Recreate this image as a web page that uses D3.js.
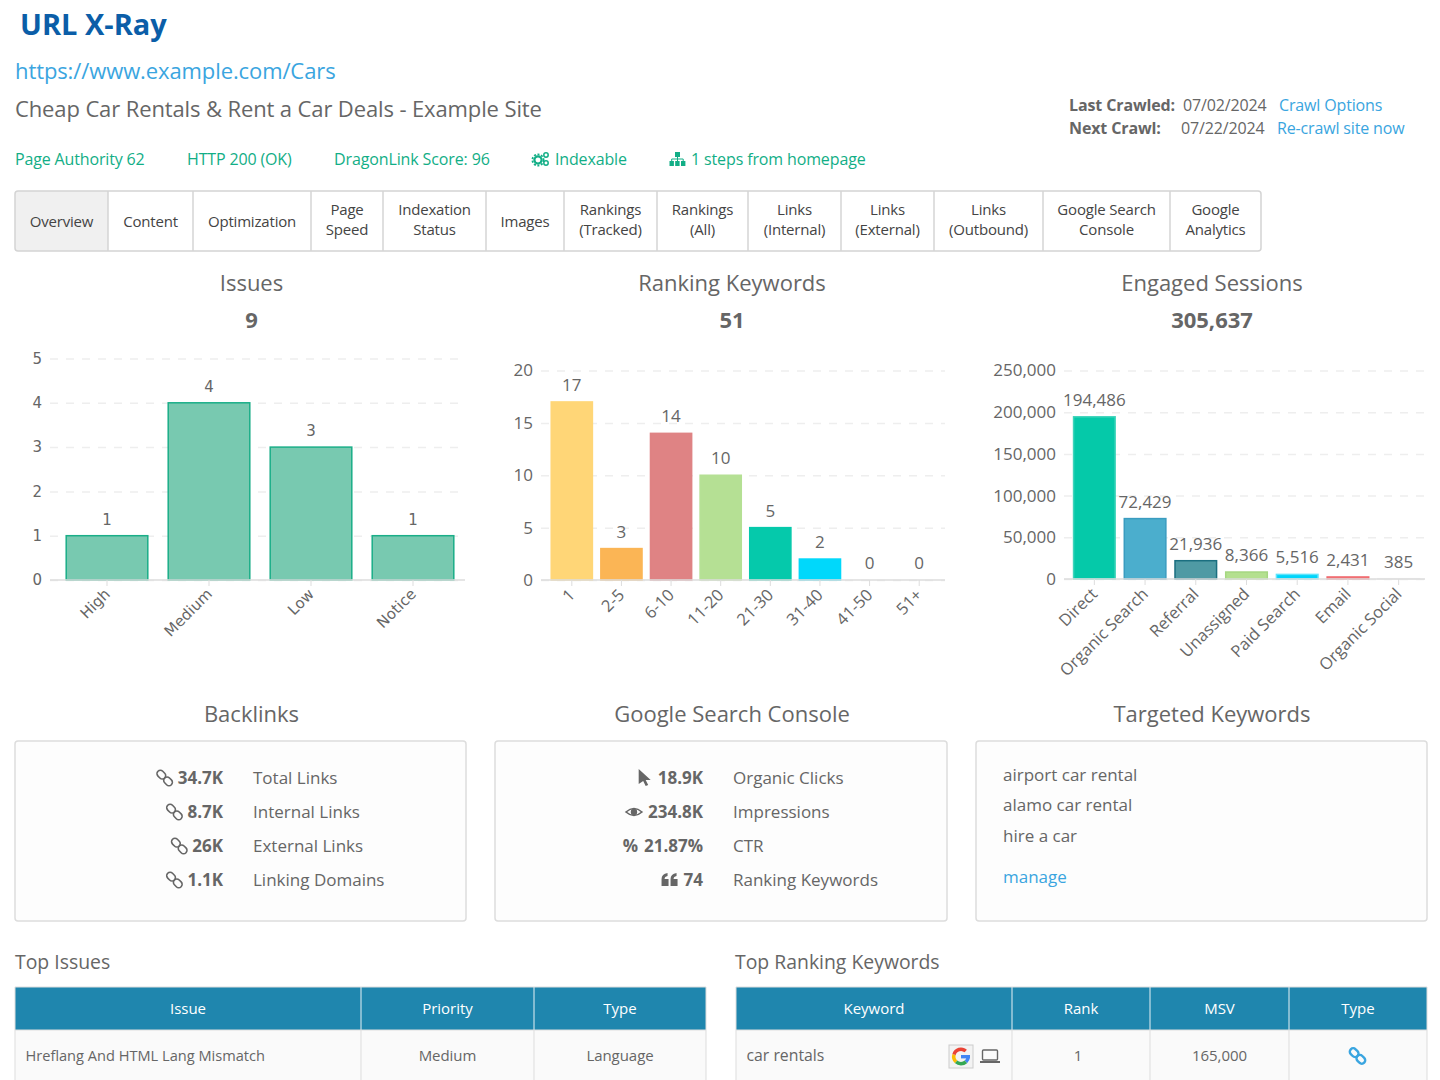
<!DOCTYPE html>
<html>
<head>
<meta charset="utf-8">
<title>URL X-Ray</title>
<script src="https://cdn.jsdelivr.net/npm/d3@7"></script>
<style>
  html, body { margin: 0; padding: 0; background: #fff; overflow: hidden; }
  svg { display: block; font-family: "Open Sans", sans-serif; }
  .axis .domain { stroke: #ddd; stroke-width: 1.5; }
  .axis .tick line { stroke: #ddd; }
  .grid .domain { display: none; }
  .grid .tick line { stroke: #eee; stroke-dasharray: 8 8; stroke-width: 1.5; }
</style>
</head>
<body>
<svg id="page" width="1440" height="1080"></svg>
<script>
// chart data
const issueCats = ["High", "Medium", "Low", "Notice"];
const issueVals = [1, 4, 3, 1];
const issueTicks = [0, 1, 2, 3, 4, 5];

const rankCats = ["1", "2-5", "6-10", "11-20", "21-30", "31-40", "41-50", "51+"];
const rankVals = [17, 3, 14, 10, 5, 2, 0, 0];
const rankTicks = [0, 5, 10, 15, 20];
const rankFill = ["#ffd677", "#fbb555", "#df8384", "#b5e094", "#05c9ab", "#00d8fb", "#ccc", "#ccc"];

const sessionCats = ["Direct", "Organic Search", "Referral", "Unassigned", "Paid Search", "Email", "Organic Social"];
const sessionVals = [194486, 72429, 21936, 8366, 5516, 2431, 385];
const sessionTicks = [0, 50000, 100000, 150000, 200000, 250000];
const sessionFill = ["#05c9a9", "#4baecd", "#4f9aa4", "#b4e08f", "#00d5fb", "#f57f82", "#eee"];
const sessionLine = ["#3fd4bb", "#3a9cc0", "#1b6f80", "#a5d780", "#5fe4fb", "#f0686c", "#eee"];

// page text
const tabLabels = [["Overview"], ["Content"], ["Optimization"], ["Page", "Speed"], ["Indexation", "Status"], ["Images"],
  ["Rankings", "(Tracked)"], ["Rankings", "(All)"], ["Links", "(Internal)"], ["Links", "(External)"], ["Links", "(Outbound)"],
  ["Google Search", "Console"], ["Google", "Analytics"]];
const tabEdges = [15, 108, 193, 311, 383, 486, 564, 657, 748, 841, 934, 1043, 1170, 1261];

const backlinkVals = ["34.7K", "8.7K", "26K", "1.1K"];
const backlinkNames = ["Total Links", "Internal Links", "External Links", "Linking Domains"];
const gscVals = ["18.9K", "234.8K", "21.87%", "74"];
const gscNames = ["Organic Clicks", "Impressions", "CTR", "Ranking Keywords"];
const gscIcons = ["cursor", "eye", "percent", "quote"];
const targeted = ["airport car rental", "alamo car rental", "hire a car"];

const grey = "#666", green = "#12ae86", blue = "#3aa5e0";
const svg = d3.select("#page");

function label(parent, x, y, str, size, color, opts = {}) {
  return parent.append("text")
    .attr("x", x).attr("y", y)
    .attr("font-size", size).attr("fill", color)
    .attr("font-weight", opts.weight || 400)
    .attr("text-anchor", opts.anchor || "start")
    .attr("letter-spacing", opts.spacing || 0)
    .text(str);
}

// header
label(svg, 20, 35, "URL X-Ray", 29, "#0b5ea8", { weight: 700 });
label(svg, 15, 79, "https://www.example.com/Cars", 22, blue, { spacing: -0.1 });
label(svg, 15, 117, "Cheap Car Rentals & Rent a Car Deals - Example Site", 22, grey, { spacing: -0.12 });

label(svg, 1069, 111, "Last Crawled:", 16, grey, { weight: 700, spacing: -0.12 });
label(svg, 1183, 111, "07/02/2024", 16, grey, { spacing: -0.15 });
label(svg, 1279, 111, "Crawl Options", 16, blue, { spacing: -0.15 });
label(svg, 1069, 134, "Next Crawl:", 16, grey, { weight: 700, spacing: -0.12 });
label(svg, 1181, 134, "07/22/2024", 16, grey, { spacing: -0.15 });
label(svg, 1277, 134, "Re-crawl site now", 16, blue, { spacing: -0.15 });

label(svg, 15, 165, "Page Authority 62", 16, green, { spacing: -0.15 });
label(svg, 187, 165, "HTTP 200 (OK)", 16, green, { spacing: -0.15 });
label(svg, 334, 165, "DragonLink Score: 96", 16, green, { spacing: -0.12 });
label(svg, 555, 165, "Indexable", 16, green, { spacing: -0.15 });
label(svg, 691, 165, "1 steps from homepage", 16, green, { spacing: -0.13 });

// cogs icon
const cogs = svg.append("g").attr("fill", "none").attr("stroke", green);
cogs.append("circle").attr("cx", 538).attr("cy", 160).attr("r", 3.6).attr("stroke-width", 2.2);
cogs.append("circle").attr("cx", 538).attr("cy", 160).attr("r", 5.6).attr("stroke-width", 1.8).attr("stroke-dasharray", "2 1.6");
cogs.append("circle").attr("cx", 546).attr("cy", 155).attr("r", 2.2).attr("stroke-width", 1.5);
cogs.append("circle").attr("cx", 546).attr("cy", 163).attr("r", 2.2).attr("stroke-width", 1.5);

// sitemap icon
const tree = svg.append("g").attr("fill", green);
tree.append("rect").attr("x", 675).attr("y", 152).attr("width", 5).attr("height", 5);
[669.5, 675.2, 681].forEach(x => tree.append("rect").attr("x", x).attr("y", 161).attr("width", 4.4).attr("height", 5));
tree.append("path").attr("d", "M671.7 161V159H683.2V161M677.5 157V161").attr("fill", "none").attr("stroke", green);

// tabs
const tabs = svg.append("g");
tabs.append("rect").attr("x", 15).attr("y", 191).attr("width", 93).attr("height", 60).attr("fill", "#f0f0f0");
tabs.append("rect").attr("x", 15).attr("y", 191).attr("width", 1246).attr("height", 60).attr("rx", 3)
  .attr("fill", "none").attr("stroke", "#d4d4d4").attr("stroke-width", 1.5);
tabLabels.forEach((lines, i) => {
  const mid = (tabEdges[i] + tabEdges[i + 1]) / 2;
  if (i > 0) {
    tabs.append("line").attr("x1", tabEdges[i]).attr("x2", tabEdges[i]).attr("y1", 191).attr("y2", 251)
      .attr("stroke", "#d4d4d4").attr("stroke-width", 1.5);
  }
  lines.forEach((ln, j) => {
    const y = lines.length === 1 ? 226.5 : 214.5 + j * 20;
    label(tabs, mid, y, ln, 15, "#444", { anchor: "middle", spacing: -0.18 });
  });
});

// bar chart, drawn from scales and axes
function barChart(c) {
  const g = svg.append("g");
  const x = d3.scaleBand().domain(c.cats).range(c.xRange).paddingInner(c.pad).paddingOuter(c.pad / 2);
  const y = d3.scaleLinear().domain([0, c.max]).range([c.y0, c.yTop]);

  g.append("g").attr("class", "grid")
    .attr("transform", `translate(${c.axisX},0)`)
    .call(d3.axisLeft(y).tickValues(c.ticks).tickSize(-(c.axisEnd - c.axisX)).tickFormat(""));

  const yAxis = d3.axisLeft(y).tickValues(c.ticks).tickSize(0).tickPadding(c.tickPad).tickFormat(d3.format(","));
  const ya = g.append("g").attr("transform", `translate(${c.axisX},0)`).call(yAxis);
  ya.select(".domain").remove();
  ya.selectAll("text").attr("font-family", c.font).attr("font-size", c.size).attr("fill", grey);

  g.selectAll("rect.bar").data(c.vals).enter().append("rect")
    .attr("class", "bar")
    .attr("x", (d, i) => x(c.cats[i]))
    .attr("y", d => y(d))
    .attr("width", x.bandwidth())
    .attr("height", d => c.y0 - y(d))
    .attr("fill", (d, i) => c.fill[i])
    .attr("stroke", (d, i) => d > 0 ? c.line[i] : "none")
    .attr("stroke-width", 1.5);

  const xa = g.append("g").attr("class", "axis")
    .attr("transform", `translate(0,${c.y0})`)
    .call(d3.axisBottom(x).tickSize(6).tickSizeOuter(0));
  xa.select(".domain").attr("d", `M${c.axisX},0H${c.axisEnd}`);
  xa.selectAll("text")
    .attr("font-family", c.font).attr("font-size", c.xSize).attr("fill", grey)
    .attr("text-anchor", "end").attr("x", 0).attr("y", 0).attr("dy", 0)
    .attr("transform", `translate(${c.labelShift[0]},${c.labelShift[1]}) rotate(-45)`);

  g.selectAll("text.val").data(c.vals).enter().append("text")
    .attr("class", "val")
    .attr("x", (d, i) => x(c.cats[i]) + x.bandwidth() / 2)
    .attr("y", d => y(d) - 11)
    .attr("text-anchor", "middle")
    .attr("font-family", c.font).attr("font-size", c.size).attr("fill", grey)
    .text(d => d3.format(",")(d));
}

barChart({
  cats: issueCats, vals: issueVals, ticks: issueTicks, max: 5,
  xRange: [56, 464], pad: 0.2, y0: 580, yTop: 358.5, axisX: 50, axisEnd: 465, tickPad: 8,
  font: "DejaVu Sans", size: 15, xSize: 15, labelShift: [4, 15],
  fill: issueCats.map(() => "#78c9b0"), line: issueCats.map(() => "#1aae88")
});
barChart({
  cats: rankCats, vals: rankVals, ticks: rankTicks, max: 20,
  xRange: [547, 944], pad: 0.17, y0: 580, yTop: 370.5, axisX: 541, axisEnd: 945, tickPad: 8,
  font: "Open Sans", size: 17, xSize: 16.5, labelShift: [4, 16],
  fill: rankFill, line: rankFill
});
barChart({
  cats: sessionCats, vals: sessionVals, ticks: sessionTicks, max: 250000,
  xRange: [1069, 1424], pad: 0.18, y0: 579, yTop: 370.5, axisX: 1064, axisEnd: 1425, tickPad: 8,
  font: "Open Sans", size: 17, xSize: 16.5, labelShift: [4, 16],
  fill: sessionFill, line: sessionLine
});

// section headings
const headCx = [251.5, 732, 1212];
["Issues", "Ranking Keywords", "Engaged Sessions"].forEach((t, i) => label(svg, headCx[i], 291, t, 22, grey, { anchor: "middle" }));
["9", "51", "305,637"].forEach((t, i) => label(svg, headCx[i], 328, t, 22, grey, { anchor: "middle", weight: 700 }));
["Backlinks", "Google Search Console", "Targeted Keywords"].forEach((t, i) => label(svg, headCx[i], 722, t, 22, grey, { anchor: "middle" }));

// panels
[[15, 451], [495, 452], [976, 451]].forEach(p => {
  svg.append("rect").attr("x", p[0]).attr("y", 741).attr("width", p[1]).attr("height", 180).attr("rx", 3)
    .attr("fill", "#fdfdfd").attr("stroke", "#ddd").attr("stroke-width", 1.5);
});

function chainIcon(parent, cx, cy, color, sw) {
  const g = parent.append("g").attr("transform", `translate(${cx},${cy}) rotate(45)`)
    .attr("fill", "none").attr("stroke", color).attr("stroke-width", sw);
  g.append("rect").attr("x", -9.5).attr("y", -3.4).attr("width", 9.5).attr("height", 6.8).attr("rx", 3.4);
  g.append("rect").attr("x", 0).attr("y", -3.4).attr("width", 9.5).attr("height", 6.8).attr("rx", 3.4);
}

function gscIcon(parent, kind, right, base) {
  const col = "#666";
  if (kind === "cursor") {
    parent.append("path").attr("transform", `translate(${right - 13},${base - 15})`)
      .attr("d", "M0 0L12 11H7L9.5 16L7 17L4.5 12L0 15Z").attr("fill", col);
  } else if (kind === "eye") {
    parent.append("path").attr("transform", `translate(${right - 16},${base - 6})`)
      .attr("d", "M0 0Q8 -7 16 0Q8 7 0 0Z").attr("fill", "none").attr("stroke", col).attr("stroke-width", 1.6);
    parent.append("circle").attr("cx", right - 8).attr("cy", base - 6).attr("r", 3.2).attr("fill", col);
  } else if (kind === "percent") {
    label(parent, right, base, "%", 17, col, { anchor: "end", weight: 700 });
  } else {
    parent.append("path").attr("transform", `translate(${right - 16},${base - 13})`)
      .attr("d", "M0 13V6Q0 1 6 0V3Q3 3.5 3 6H7V13ZM9 13V6Q9 1 15 0V3Q12 3.5 12 6H16V13Z").attr("fill", col);
  }
}

const statY = [784, 818, 852, 886];
backlinkVals.forEach((v, i) => {
  const t = label(svg, 223, statY[i], v, 17, grey, { anchor: "end", weight: 700 });
  chainIcon(svg, 223 - t.node().getComputedTextLength() - 13, statY[i] - 6, "#666", 1.6);
  label(svg, 253, statY[i], backlinkNames[i], 17, grey);
});
gscVals.forEach((v, i) => {
  const t = label(svg, 703, statY[i], v, 17, grey, { anchor: "end", weight: 700 });
  gscIcon(svg, gscIcons[i], 703 - t.node().getComputedTextLength() - 6, statY[i]);
  label(svg, 733, statY[i], gscNames[i], 17, grey);
});
const kwY = [781, 811, 842];
targeted.forEach((k, i) => label(svg, 1003, kwY[i], k, 17, grey));
label(svg, 1003, 883, "manage", 17, blue);

// tables
label(svg, 15, 969, "Top Issues", 19.4, grey);
label(svg, 735, 969, "Top Ranking Keywords", 19.4, grey);

function table(edges, heads, cells, firstSize, shifts) {
  const g = svg.append("g");
  const left = edges[0], right = edges[edges.length - 1];
  g.append("rect").attr("x", left).attr("y", 987).attr("width", right - left).attr("height", 43).attr("fill", "#1f86ae");
  g.append("rect").attr("x", left).attr("y", 1030).attr("width", right - left).attr("height", 50).attr("fill", "#fafafa");
  edges.forEach((e, i) => {
    g.append("line").attr("x1", e).attr("x2", e).attr("y1", 987).attr("y2", 1030).attr("stroke", i === 0 || i === edges.length - 1 ? "#ddd" : "#e8f1f5");
    g.append("line").attr("x1", e).attr("x2", e).attr("y1", 1030).attr("y2", 1080).attr("stroke", "#ddd");
  });
  g.append("line").attr("x1", left).attr("x2", right).attr("y1", 987).attr("y2", 987).attr("stroke", "#ddd");
  g.append("line").attr("x1", left).attr("x2", right).attr("y1", 1030).attr("y2", 1030).attr("stroke", "#ddd");
  heads.forEach((h, i) => label(g, (edges[i] + edges[i + 1]) / 2, 1013.5, h, 15, "#fff", { anchor: "middle" }));
  cells.forEach((c, i) => {
    if (!c) return;
    if (i === 0) label(g, left + 10.5, 1060.5, c, firstSize, grey);
    else label(g, (edges[i] + edges[i + 1]) / 2 + shifts[i], 1060.5, c, 15, grey, { anchor: "middle", spacing: -0.05 });
  });
}
table([15, 361, 534, 706], ["Issue", "Priority", "Type"], ["Hreflang And HTML Lang Mismatch", "Medium", "Language"], 14.6, [0, 0, 0]);
table([736, 1012, 1150, 1289, 1427], ["Keyword", "Rank", "MSV", "Type"], ["car rentals", "1", "165,000", ""], 15.8, [0, -3, 0, 0]);
chainIcon(svg, 1357.5, 1056, blue, 2.4);

// google logo, four arc segments
const gBox = svg.append("g").attr("transform", "translate(961,1056.5)");
gBox.append("rect").attr("x", -12).attr("y", -11.5).attr("width", 24).attr("height", 23)
  .attr("fill", "#f3f3f3").attr("stroke", "#ccc");
const gArc = d3.arc().innerRadius(5.5).outerRadius(9);
[[1.57, 2.4, "#4285f4"], [2.4, 3.9, "#34a853"], [3.9, 5.0, "#fbbc05"], [5.0, 7.0, "#ea4335"]].forEach(s => {
  gBox.append("path").attr("d", gArc({ startAngle: s[0], endAngle: s[1] })).attr("fill", s[2]);
});
gBox.append("rect").attr("x", 0).attr("y", -1.5).attr("width", 9).attr("height", 3.4).attr("fill", "#4285f4");

// laptop icon
const laptop = svg.append("g").attr("fill", "none").attr("stroke", "#666");
laptop.append("rect").attr("x", 982.5).attr("y", 1050).attr("width", 15).attr("height", 10).attr("rx", 1).attr("stroke-width", 1.4);
laptop.append("line").attr("x1", 980).attr("x2", 1000).attr("y1", 1062).attr("y2", 1062).attr("stroke-width", 2);
</script>
</body>
</html>
